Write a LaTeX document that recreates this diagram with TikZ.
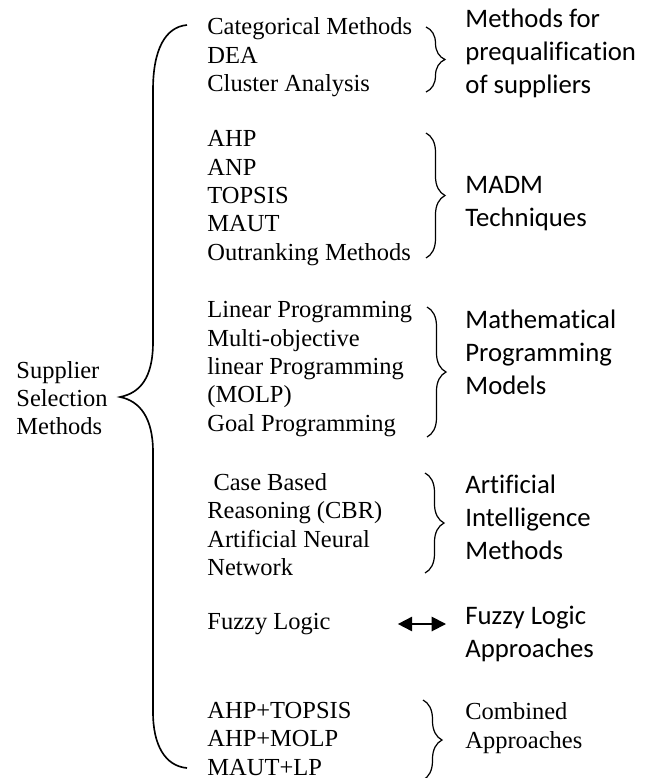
\documentclass[tikz,border=0pt]{standalone}
\usepackage{fontspec}
\setmainfont[Ligatures={NoCommon}]{Liberation Serif}
\newfontfamily\calfont[Ligatures={NoCommon}]{Carlito}
\usetikzlibrary{decorations.pathreplacing,arrows.meta}
\begin{document}
\begin{tikzpicture}[x=0.49pt,y=-0.49pt,
  item/.style={align=left, anchor=west, inner sep=0pt, font=\fontsize{12}{13.9}\selectfont},
  lab/.style={align=left, anchor=west, inner sep=0pt, font=\calfont\fontsize{13.1}{16.2}\selectfont},
  bigbrace/.style={line width=0.8pt},
  rbrace/.style={decorate, decoration={brace, amplitude=9.3pt}, line width=0.6pt},
  dblarrow/.style={{Triangle[length=7pt,width=7pt]}-{Triangle[length=7pt,width=7pt]}, line width=0.9pt}]
\useasboundingbox (0,0) rectangle (647,778);
% left column
\node[item] (sup) at (16,398) {Supplier\\Selection\\Methods};
\node[item] (g1) at (207,57.5) {Categorical Methods\\DEA\\Cluster Analysis};
\node[item] (g2) at (207,198) {AHP\\ANP\\TOPSIS\\MAUT\\Outranking Methods};
\node[item] (g3) at (207,369) {Linear Programming\\Multi-objective\\linear Programming\\(MOLP)\\Goal Programming};
\node[item] (g4) at (207,524.5) {~Case Based\\Reasoning (CBR)\\Artificial Neural\\Network};
\node[item] (g5) at (207,624) {Fuzzy Logic};
\node[item] (g6) at (207,739) {AHP+TOPSIS\\AHP+MOLP\\MAUT+LP};
% right labels
\node[lab] (l1) at (465,53) {Methods for\\prequalification\\of suppliers};
\node[lab] (l2) at (465,204) {MADM\\Techniques};
\node[lab] (l3) at (465,352) {Mathematical\\Programming\\Models};
\node[lab] (l4) at (465,517) {Artificial\\Intelligence\\Methods};
\node[lab] (l5) at (465,634) {Fuzzy Logic\\Approaches};
\node[item] (l6) at (465,728) {Combined\\Approaches};
% big brace
\coordinate (tip) at (120,397);
\draw[bigbrace] (187,25) .. controls (165,27) and (153,50) .. (153,90) -- (153,342)
  .. controls (153,378) and (140,393) .. (tip)
  .. controls (140,401) and (153,418) .. (153,452) -- (153,712)
  .. controls (153,745) and (165,766) .. (187,768);
% small braces
\draw[rbrace] (426,27) -- (426,92);
\draw[rbrace] (426,133) -- (426,258);
\draw[rbrace] (427,307) -- (427,437);
\draw[rbrace] (425,473) -- (425,573);
\draw[rbrace] (423,700) -- (423,780);
% arrow
\draw[dblarrow, shorten <=32.8pt, shorten >=9.3pt] (g5.east) -- (g5.east -| l5.west);
\end{tikzpicture}
\end{document}
